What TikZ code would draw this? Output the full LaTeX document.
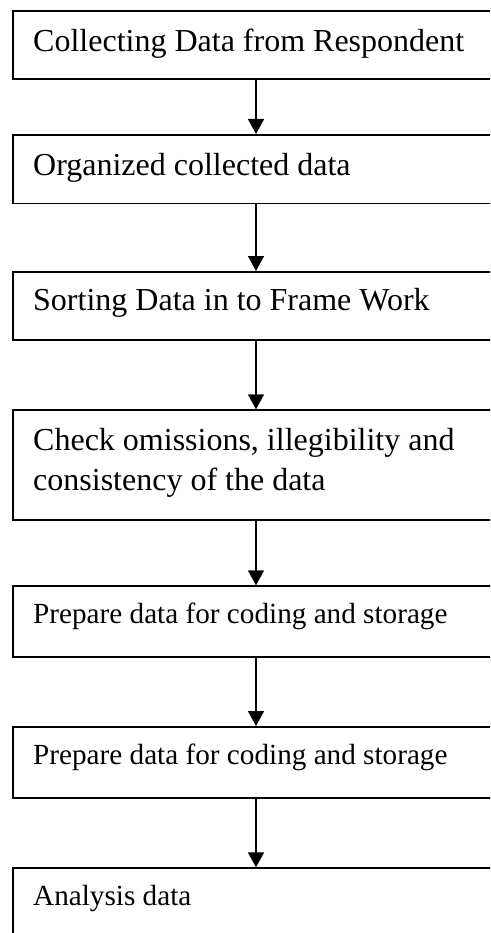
\documentclass[tikz,border=0pt]{standalone}
\usepackage{fontspec}
\setmainfont{Liberation Serif}
\usetikzlibrary{arrows.meta}
\tikzset{
  box/.style={draw=black, line width=1.8pt, rectangle, minimum width=495pt, inner sep=0pt, anchor=north west},
  lbl/.style={inner sep=0pt, anchor=base west, font=\fontsize{32}{40}\selectfont, align=left},
  lbls/.style={inner sep=0pt, anchor=base west, font=\fontsize{29.2}{36}\selectfont},
  arr/.style={draw=black, line width=1.6pt, -{Triangle[width=16pt,length=15pt]}}
}
\begin{document}
\begin{tikzpicture}[x=1pt,y=-1pt]
\useasboundingbox (0,0) rectangle (490,933);
\clip (0,0) rectangle (490,933);
\coordinate (ax) at (256,0);
\node[box, minimum height=68pt] (b1) at (12,10.3) {};
\node[box, minimum height=68.7pt] (b2) at (12,134) {};
\node[box, minimum height=68.3pt] (b3) at (12,271) {};
\node[box, minimum height=110pt] (b4) at (12,409.3) {};
\node[box, minimum height=70.7pt] (b5) at (12,585.3) {};
\node[box, minimum height=70.7pt] (b6) at (12,726) {};
\node[box, minimum height=100pt] (b7) at (12,867.3) {};
\node[lbl] (t1) at (33,51.7) {Collecting Data from Respondent};
\node[lbl] (t2) at (33,175.4) {Organized collected data};
\node[lbl] (t3) at (33,310.7) {Sorting Data in to Frame Work};
\node[lbl] (t4) at (33,490.7) {Check omissions, illegibility and\\consistency of the data};
\node[lbls] (t5) at (33,623.3) {Prepare data for coding and storage};
\node[lbls] (t6) at (33,764) {Prepare data for coding and storage};
\node[lbls] (t7) at (33,905.3) {Analysis data};
\draw[arr] (ax |- b1.south) -- (ax |- b2.north);
\draw[arr] (ax |- b2.south) -- (ax |- b3.north);
\draw[arr] (ax |- b3.south) -- (ax |- b4.north);
\draw[arr] (ax |- b4.south) -- (ax |- b5.north);
\draw[arr] (ax |- b5.south) -- (ax |- b6.north);
\draw[arr] (ax |- b6.south) -- (ax |- b7.north);
\end{tikzpicture}
\end{document}
